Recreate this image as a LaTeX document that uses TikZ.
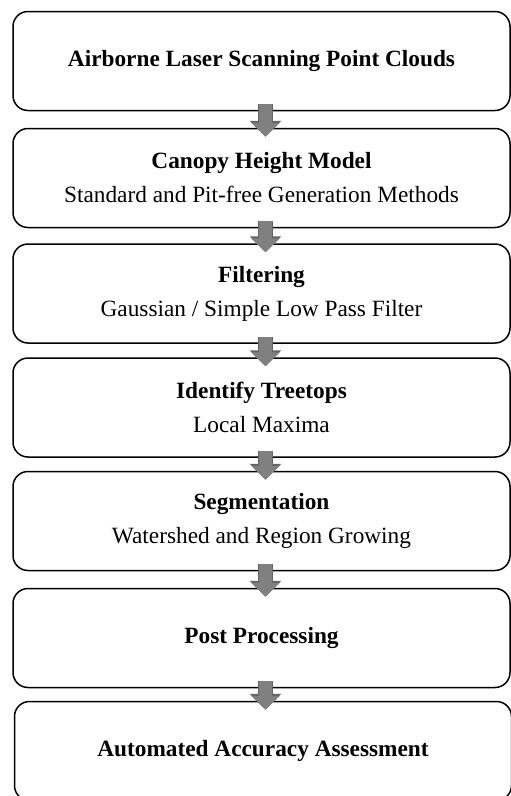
\documentclass[tikz,border=0pt]{standalone}
\usepackage{fontspec}
\setmainfont{Liberation Serif}
\usetikzlibrary{arrows.meta}
\definecolor{arrowgray}{RGB}{128,128,128}
\definecolor{arrowedge}{RGB}{100,100,100}

\begin{document}
\begin{tikzpicture}[x=1pt, y=-1pt,
		font=\fontsize{23.3}{34}\selectfont,
		stage/.style={draw, line width=1.5pt, rounded corners=15pt,
			minimum width=497pt, minimum height=99pt, align=center, inner sep=0pt},
		flow/.style={draw=arrowgray, line width=13pt,
			-{Triangle[width=28pt,length=14pt]},
			preaction={draw=arrowedge, line width=14.5pt, -{Triangle[width=31pt,length=16pt]}},
			shorten <=-7pt, shorten >=-9pt}]
		\useasboundingbox (0,0) rectangle (511,796);

		\node[stage] (ALS)  at (261.5, 61)    {\textbf{Airborne Laser Scanning Point Clouds}};
		\node[stage] (CHM)  at (261.5, 178)   {\textbf{Canopy Height Model}\\ Standard and Pit-free Generation Methods};
		\node[stage] (Filt) at (261.5, 293.5) {\textbf{Filtering}\\ Gaussian / Simple Low Pass Filter};
		\node[stage] (Tops) at (261.5, 407.5) {\textbf{Identify Treetops}\\ Local Maxima};
		\node[stage] (Seg)  at (261.5, 521)   {\textbf{Segmentation}\\ Watershed and Region Growing};
		\node[stage] (Post) at (261.5, 638)   {\textbf{Post Processing}};
		\node[stage] (Acc)  at (263, 751)     {\textbf{Automated Accuracy Assessment}};

		\draw[flow] ([xshift=4pt]ALS.south)  -- ([xshift=4pt]CHM.north);
		\draw[flow] ([xshift=4pt]CHM.south)  -- ([xshift=4pt]Filt.north);
		\draw[flow] ([xshift=4pt]Filt.south) -- ([xshift=4pt]Tops.north);
		\draw[flow] ([xshift=4pt]Tops.south) -- ([xshift=4pt]Seg.north);
		\draw[flow] ([xshift=4pt]Seg.south)  -- ([xshift=4pt]Post.north);
		\draw[flow] ([xshift=4pt]Post.south) -- ([xshift=2.5pt]Acc.north);
	\end{tikzpicture}
\end{document}
